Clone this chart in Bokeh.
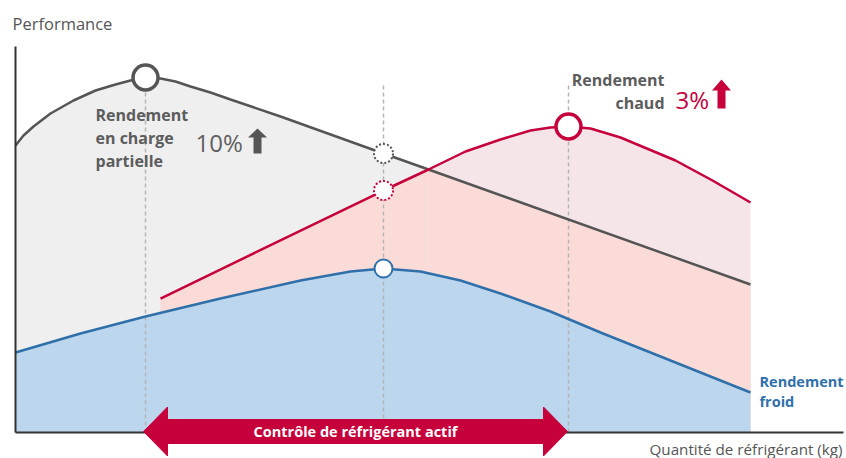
import numpy as np
from bokeh.plotting import figure
from bokeh.models import Range1d
from bokeh.core.properties import value
from bokeh.embed import file_html
from bokeh.resources import INLINE

# ---- data (arbitrary units: refrigerant quantity vs performance) ----
x_gray = [0, 8, 18, 35, 58, 80, 100, 115, 130, 145, 160, 175, 195, 215, 265, 368, 413, 735]
y_gray = [287, 297, 306, 319, 332, 342, 348, 352, 355, 354, 351, 346, 340, 333, 316, 279, 263, 148]

x_red = [145, 368, 413, 450, 485, 515, 535, 553, 575, 605, 660, 697, 735]
y_red = [134, 242, 263, 281, 293, 302, 305, 306, 304, 295, 272, 252, 230]

x_blue = [0, 65, 130, 205, 285, 335, 368, 405, 445, 485, 535, 585, 645, 705, 735]
y_blue = [80, 99, 116, 134, 152, 161, 164, 161, 152, 139, 121, 100, 76, 52, 40]

cross_x = 413  # where the red and gray curves meet

labels_partial = ["Rendement", "en charge", "partielle"]
labels_hot = ["Rendement", "chaud"]
labels_cold = ["Rendement", "froid"]
gain_partial = "10%"
gain_hot = "3%"
arrow_label = "Contrôle de réfrigérant actif"
y_title = "Performance"
x_title = "Quantité de réfrigérant (kg)"

# ---- colours ----
GRAY = "#555555"
RED = "#c6003b"
BLUE = "#2f70aa"
TXT = "#5c5c5c"
FILL_GRAY = "#efefef"
FILL_PINK = "#f5e5e8"
FILL_SALMON = "#fadbd8"
FILL_BLUE = "#bcd6ee"
DASH = "#b4b4b4"
FONT = value("Open Sans")

xg, yg = np.array(x_gray), np.array(y_gray)
xr, yr = np.array(x_red), np.array(y_red)
xb, yb = np.array(x_blue), np.array(y_blue)

p = figure(width=846, height=458, x_range=Range1d(-15, 831), y_range=Range1d(-26, 432),
           output_backend="svg", toolbar_location=None, min_border=0, title=None)
p.axis.visible = False
p.grid.visible = False
p.outline_line_color = None

# fills
p.varea(x=x_gray, y1=0, y2=y_gray, fill_color=FILL_GRAY)
p.varea(x=x_red, y1=0, y2=y_red, fill_color=FILL_PINK)
m_r = xr <= cross_x
p.varea(x=xr[m_r], y1=0, y2=yr[m_r], fill_color=FILL_SALMON)
m_g = xg >= cross_x
p.varea(x=xg[m_g], y1=0, y2=yg[m_g], fill_color=FILL_SALMON)
p.varea(x=x_blue, y1=0, y2=y_blue, fill_color=FILL_BLUE)

# peaks
gpk = int(np.argmax(yg)); rpk = int(np.argmax(yr)); bpk = int(np.argmax(yb))
gx, gy = xg[gpk], yg[gpk]
rx, ry = xr[rpk], yr[rpk]
bx, by = xb[bpk], yb[bpk]
g_at_b = yg[list(xg).index(bx)]
r_at_b = yr[list(xr).index(bx)]

# dashed guides
top_guide = 347
p.segment(x0=[gx, bx, rx], y0=[0, 0, 0], x1=[gx, bx, rx], y1=[gy, top_guide, top_guide],
          line_color=DASH, line_width=1.5, line_dash="4 3")

# curves
p.line(x_gray, y_gray, line_color=GRAY, line_width=2.5)
p.line(x_red, y_red, line_color=RED, line_width=2.5)
p.line(x_blue, y_blue, line_color=BLUE, line_width=2.5)

# markers
p.scatter([gx], [gy], size=25, fill_color="white", line_color=GRAY, line_width=3.5)
p.scatter([rx], [ry], size=25, fill_color="white", line_color=RED, line_width=3.5)
p.scatter([bx], [by], size=18, fill_color="white", line_color=BLUE, line_width=2)
p.scatter([bx], [g_at_b], size=19, fill_color="white", line_color=GRAY, line_width=2, line_dash="2 2")
p.scatter([bx], [r_at_b], size=19, fill_color="white", line_color=RED, line_width=2, line_dash="2 2")

# axes
p.segment(x0=[0, 0], y0=[0, 0], x1=[0, 828], y1=[386, 0], line_color="#333333", line_width=2)

# double arrow
yc, bh, hh, hl = 1, 12, 24.5, 24
xl, xrr = gx - 2, rx - 1
ax = [xl, xl + hl, xl + hl, xrr - hl, xrr - hl, xrr, xrr - hl, xrr - hl, xl + hl, xl + hl]
ay = [yc, yc + hh, yc + bh, yc + bh, yc + hh, yc, yc - hh, yc - bh, yc - bh, yc - hh]
p.patch(ax, ay, fill_color=RED, line_color=RED)
p.text(x=[(xl + xrr) / 2], y=[yc], text=[arrow_label], text_font=FONT, text_font_size="14.5px",
       text_font_style="bold", text_color="white", text_align="center", text_baseline="middle")

# up arrows
def up_arrow(cx, tip, head_w=9.5, head_h=9, shaft_w=4, length=25):
    xs = [cx, cx + head_w, cx + shaft_w, cx + shaft_w, cx - shaft_w, cx - shaft_w, cx - head_w]
    ys = [tip, tip - head_h, tip - head_h, tip - length, tip - length, tip - head_h, tip - head_h]
    return xs, ys

ux, uy = up_arrow(242, 304)
p.patch(ux, uy, fill_color=GRAY, line_color=None)
ux, uy = up_arrow(706, 353, length=29, head_h=11)
p.patch(ux, uy, fill_color=RED, line_color=None)

# labels (y given as baseline; small correction for rendering offset)
def label(xs, ys, texts, size, color, align="left", bold=False):
    off = 0.44 * size
    p.text(x=xs, y=[v + off for v in ys], text=texts, text_font=FONT, text_font_size=f"{size}px",
           text_font_style="bold" if bold else "normal", text_color=color, text_align=align,
           text_baseline="alphabetic")

label([80] * 3, [310, 287, 264], labels_partial, 16, TXT, bold=True)
label([180], [279], [gain_partial], 24, "#5f5f5f")
label([649] * 2, [345, 322], labels_hot, 16, TXT, align="right", bold=True)
label([660], [322], [gain_hot], 24, RED)
label([744] * 2, [45, 25], labels_cold, 14.5, BLUE, bold=True)
label([-3], [402], [y_title], 16.5, "#555555")
label([827], [-23], [x_title], 15.2, "#555555", align="right")

open("out.html", "w").write(file_html(p, INLINE))
